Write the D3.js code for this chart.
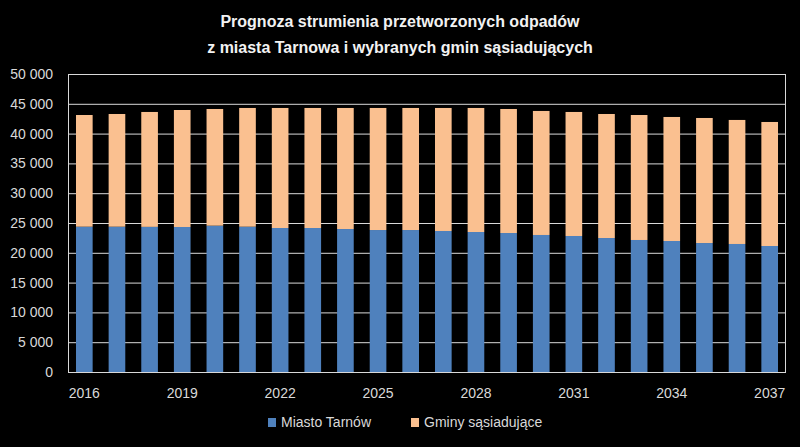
<!DOCTYPE html>
<html><head><meta charset="utf-8">
<script src="https://cdn.jsdelivr.net/npm/d3@7"></script>
<style>body{margin:0;background:#000}svg{display:block}</style>
</head><body>
<svg id="c" width="800" height="447"></svg>
<script>
const years = [2016,2017,2018,2019,2020,2021,2022,2023,2024,2025,2026,2027,2028,2029,2030,2031,2032,2033,2034,2035,2036,2037];
const miasto = [24380,24380,24350,24330,24550,24380,24160,24160,23990,23820,23820,23660,23490,23320,22990,22820,22480,22150,21980,21640,21480,21140];
const totals = [43120,43290,43630,43960,44130,44300,44300,44300,44300,44300,44300,44300,44300,44130,43800,43630,43290,43120,42790,42620,42290,41950];
const gminy = totals.map((t,i)=>t-miasto[i]);
const seriesNames = ["Miasto Tarnów","Gminy sąsiadujące"];
const colors = ["#4F81BD","#FAC090"];
const yTicks = [0,5000,10000,15000,20000,25000,30000,35000,40000,45000,50000];
const xLabelYears = [2016,2019,2022,2025,2028,2031,2034,2037];
const titleLines = ["Prognoza strumienia przetworzonych odpadów","z miasta Tarnowa i wybranych gmin sąsiadujących"];

const svg = d3.select("#c");
const W=800,H=447;
svg.append("rect").attr("width",W).attr("height",H).attr("fill","#000");
const m={l:68,r:786,t:74,b:372};
const font="'Liberation Sans', Arial, sans-serif";
const x = d3.scaleBand().domain(years).range([m.l,m.r]).paddingInner(0.49).paddingOuter(0.245);
const y = d3.scaleLinear().domain([0,50000]).range([m.b,m.t]);

// gridlines
svg.append("g").selectAll("line").data(yTicks).join("line")
  .attr("x1",m.l).attr("x2",m.r).attr("y1",d=>y(d)+0.5).attr("y2",d=>y(d)+0.5)
  .attr("stroke","#d9d9d9").attr("stroke-width",1);
// frame verticals
svg.append("line").attr("x1",m.l+0.5).attr("x2",m.l+0.5).attr("y1",m.t).attr("y2",m.b).attr("stroke","#d9d9d9");
svg.append("line").attr("x1",m.r-0.5).attr("x2",m.r-0.5).attr("y1",m.t).attr("y2",m.b).attr("stroke","#d9d9d9");

const data = years.map((yr,i)=>({year:yr,m:miasto[i],g:gminy[i]}));
const stack = d3.stack().keys(["m","g"])(data);
svg.append("g").selectAll("g").data(stack).join("g").attr("fill",(d,i)=>colors[i])
  .selectAll("rect").data(d=>d).join("rect")
  .attr("x",d=>x(d.data.year)).attr("width",x.bandwidth())
  .attr("y",d=>y(d[1])).attr("height",d=>y(d[0])-y(d[1]));

// y axis
const fmt = v => v===0 ? "0" : d3.format(",")(v).replace(/,/g," ");
const ya = svg.append("g").attr("transform",`translate(${m.l},0)`)
  .call(d3.axisLeft(y).tickValues(yTicks).tickSize(0).tickPadding(15).tickFormat(fmt));
ya.select(".domain").remove();
ya.selectAll("text").attr("fill","#d9d9d9").attr("font-family",font).attr("font-size",14);

// x axis
const xa = svg.append("g").attr("transform",`translate(0,${m.b})`)
  .call(d3.axisBottom(x).tickValues(xLabelYears).tickSize(0).tickPadding(16));
xa.select(".domain").remove();
xa.selectAll("text").attr("fill","#d9d9d9").attr("font-family",font).attr("font-size",14);

// title
svg.append("g").selectAll("text").data(titleLines).join("text")
  .attr("x",400).attr("y",(d,i)=>27+i*26).attr("text-anchor","middle")
  .attr("fill","#f2f2f2").attr("font-family",font).attr("font-weight","bold").attr("font-size",16)
  .text(d=>d);

// legend
const leg = svg.append("g");
const legX=[268,411];
seriesNames.forEach((n,i)=>{
  leg.append("rect").attr("x",legX[i]).attr("y",418).attr("width",8).attr("height",9).attr("fill",colors[i]);
  leg.append("text").attr("x",legX[i]+13).attr("y",427).attr("fill","#d9d9d9")
    .attr("font-family",font).attr("font-size",14).text(n);
});
</script>
</body></html>
